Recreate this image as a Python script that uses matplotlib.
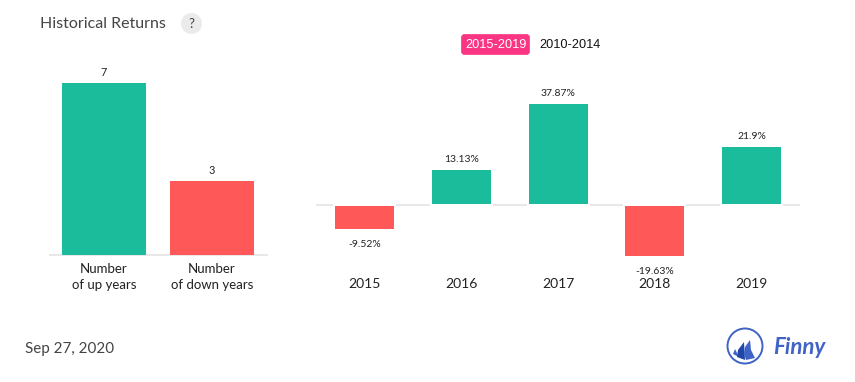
"""Historical returns summary: up/down year counts and yearly returns."""

import matplotlib
matplotlib.use("Agg")
import matplotlib.pyplot as plt
from matplotlib.patches import Circle, FancyBboxPatch, Polygon

plt.rcParams["font.family"] = ["Lato", "DejaVu Sans"]

# ---------------------------------------------------------------------------
# Data
# ---------------------------------------------------------------------------

COUNT_LABELS = ["Number\nof up years", "Number\nof down years"]
COUNT_VALUES = [7, 3]
YEARS = ["2015", "2016", "2017", "2018", "2019"]
RETURNS = [-9.52, 13.13, 37.87, -19.63, 21.9]
RETURN_LABELS = ["-9.52%", "13.13%", "37.87%", "-19.63%", "21.9%"]

GREEN = "#1abc9c"
RED = "#ff5858"
PINK = "#f93584"
LINE = "#e8e8e8"
DARK = "#222222"
GREY = "#444444"
BLUE = "#3f63c6"
NAVY = "#1f47a8"

W, H = 855, 382


def px_axes(fig, x0, x1, y_top, y_bottom):
    """Axes placed by reference pixel edges."""
    return fig.add_axes([x0 / W, 1 - y_bottom / H, (x1 - x0) / W, (y_bottom - y_top) / H])


def strip(ax):
    for side in ax.spines.values():
        side.set_visible(False)
    ax.set_yticks([])
    ax.tick_params(axis="x", length=0)
    ax.patch.set_alpha(0)


fig = plt.figure(figsize=(W / 100, H / 100), dpi=100)

# ---------------------------------------------------------------------------
# Left panel: counts
# ---------------------------------------------------------------------------

ax1 = px_axes(fig, 50, 267, 60, 255)
strip(ax1)
ax1.set_xlim(-0.5, 1.51)
ax1.set_ylim(0, 195 / (172 / 7))
ax1.axhline(0, color=LINE, lw=1.5, zorder=1, clip_on=False)
ax1.bar(range(2), COUNT_VALUES, width=0.778, color=[GREEN, RED], zorder=2)
for i, v in enumerate(COUNT_VALUES):
    ax1.annotate(str(v), (i, v), xytext=(0, 3.5), textcoords="offset points",
                 ha="center", va="bottom", fontsize=7.8, color=DARK)
ax1.set_xticks(range(2))
ax1.set_xticklabels(COUNT_LABELS, fontsize=9.5, color=DARK, linespacing=1.32)
ax1.tick_params(axis="x", pad=6)

# ---------------------------------------------------------------------------
# Right panel: yearly returns
# ---------------------------------------------------------------------------

ax2 = px_axes(fig, 316, 800, 80.5, 262.5)
strip(ax2)
ax2.set_xlim(-0.5, 4.5)
ax2.set_ylim(-58 / 2.68, 124 / 2.68)
ax2.axhline(0, color=LINE, lw=1.5, zorder=1)
colors = [GREEN if r > 0 else RED for r in RETURNS]
ax2.bar(range(5), RETURNS, width=61 / 96.8, color=colors, edgecolor="white",
        linewidth=1.44, zorder=2)
for i, (r, lab) in enumerate(zip(RETURNS, RETURN_LABELS)):
    off = 3.5 if r > 0 else -7
    ax2.annotate(lab, (i, r), xytext=(0, off), textcoords="offset points", ha="center",
                 va="bottom" if r > 0 else "top", fontsize=7.5, color=DARK, zorder=3)
ax2.set_xticks(range(5))
ax2.set_xticklabels(YEARS, fontsize=10, color=DARK)
ax2.tick_params(axis="x", pad=11.5)

# ---------------------------------------------------------------------------
# Page furniture (title, toggle, date, logo)
# ---------------------------------------------------------------------------

page = fig.add_axes([0, 0, 1, 1], zorder=5)
page.set_xlim(0, W)
page.set_ylim(H, 0)
page.axis("off")

page.text(40, 23.5, "Historical Returns", fontsize=11.5, color=GREY, va="center")
page.add_patch(Circle((191.5, 23.5), 10.5, color="#ebebeb", lw=0))
page.text(191.5, 23.5, "?", fontsize=9.5, color=GREY, ha="center", va="center")

page.add_patch(FancyBboxPatch((461.5, 34.5), 68, 20, boxstyle="round,pad=0,rounding_size=3",
                              fc=PINK, ec=PINK, lw=0.5))
page.text(496, 45, "2015-2019", fontsize=9.2, color="white", ha="center", va="center",
          family="Liberation Sans")
page.text(570, 45, "2010-2014", fontsize=9.2, color="#111111", ha="center", va="center",
          family="Liberation Sans")

page.text(25, 348.5, "Sep 27, 2020", fontsize=10.9, color=GREY, va="center")

# logo
page.add_patch(Circle((745, 346), 17.5, fc="none", ec=BLUE, lw=1.4))
page.add_patch(Polygon([(735, 349), (733, 354), (739, 357)], fc=BLUE, lw=0))
page.add_patch(Polygon([(744, 342), (738, 350), (737, 357), (745, 360)], fc=NAVY, lw=0))
page.add_patch(Polygon([(750, 340), (745, 347), (744, 354), (746, 360), (755, 358), (751, 350)],
                       fc=BLUE, lw=0))
page.text(773, 348, "Finny", fontsize=16, color=BLUE, va="center", style="italic",
          weight="bold")

fig.savefig("out.png", dpi=100)
plt.close(fig)
